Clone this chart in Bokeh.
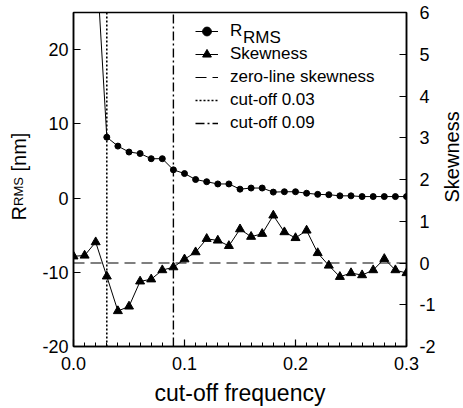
import math
from bokeh.plotting import figure
from bokeh.layouts import row
from bokeh.models import (Range1d, LinearAxis, FixedTicker, PrintfTickFormatter,
                          Legend, LegendItem, Label)
from bokeh.embed import file_html
from bokeh.resources import INLINE

FONT = "Liberation Sans"

# ---- data ----
cutoff_skew = [0.00, 0.01, 0.02, 0.03, 0.04, 0.05, 0.06, 0.07, 0.08, 0.09, 0.10,
               0.11, 0.12, 0.13, 0.14, 0.15, 0.16, 0.17, 0.18, 0.19, 0.20,
               0.21, 0.22, 0.23, 0.24, 0.25, 0.26, 0.27, 0.28, 0.29, 0.30]
skewness = [0.16, 0.18, 0.50, -0.32, -1.15, -1.04, -0.44, -0.39, -0.17, -0.10, 0.09,
            0.26, 0.58, 0.54, 0.41, 0.81, 0.63, 0.70, 1.14, 0.74, 0.60,
            0.78, 0.24, -0.06, -0.33, -0.24, -0.29, -0.17, 0.10, -0.17, -0.24]

cutoff_rms = [0.02, 0.03, 0.04, 0.05, 0.06, 0.07, 0.08, 0.09, 0.10,
              0.11, 0.12, 0.13, 0.14, 0.15, 0.16, 0.17, 0.18, 0.19, 0.20,
              0.21, 0.22, 0.23, 0.24, 0.25, 0.26, 0.27, 0.28, 0.29, 0.30]
rrms = [33.6, 8.2, 7.0, 6.2, 6.0, 5.3, 5.3, 3.8, 3.3,
        2.5, 2.2, 1.9, 1.9, 1.2, 1.35, 1.35, 0.8, 0.85, 0.85,
        0.65, 0.5, 0.45, 0.3, 0.3, 0.2, 0.2, 0.2, 0.2, 0.2]

cutoff_lines = [0.03, 0.09]
cutoff_labels = ["cut-off 0.03", "cut-off 0.09"]
skew_zero = 0.0

X_RANGE = (0.0, 0.3)
Y_RANGE = (-20, 25)
Y2_RANGE = (-2, 6)
x_ticks = [0.0, 0.1, 0.2, 0.3]
x_minor = [i / 100 for i in range(31)]
y_ticks = [-20, -10, 0, 10, 20]
y2_ticks = [-2, -1, 0, 1, 2, 3, 4, 5, 6]

H = 408
LEFT_W = 34
RIGHT_W = 25
MAIN_W = 463 - LEFT_W - RIGHT_W

p = figure(width=MAIN_W, height=H, output_backend="svg", toolbar_location=None,
           x_range=Range1d(*X_RANGE), y_range=Range1d(*Y_RANGE),
           min_border_left=39, min_border_right=29, min_border_top=12, min_border_bottom=62)
p.extra_y_ranges = {"skew": Range1d(*Y2_RANGE)}
p.grid.visible = False
p.outline_line_color = "black"
p.outline_line_width = 1.5
p.background_fill_color = "white"
p.border_fill_color = "white"

def style_axis(ax, standoff):
    ax.axis_line_width = 1.5
    ax.axis_line_color = "black"
    ax.major_tick_in = 7
    ax.major_tick_out = 0
    ax.major_tick_line_width = 1.2
    ax.minor_tick_in = 4
    ax.minor_tick_out = 0
    ax.major_label_text_font = FONT
    ax.major_label_text_font_size = "18px"
    ax.major_label_text_color = "black"
    ax.major_label_standoff = standoff

xa = p.xaxis[0]
xa.ticker = FixedTicker(ticks=x_ticks, minor_ticks=x_minor)
xa.formatter = PrintfTickFormatter(format="%.1f")
style_axis(xa, 10)
xa.axis_label = "cut-off frequency"
xa.axis_label_text_font = FONT
xa.axis_label_text_font_size = "23px"
xa.axis_label_text_font_style = "normal"
xa.axis_label_text_color = "black"
xa.axis_label_standoff = 7

ya = p.yaxis[0]
ya.ticker = FixedTicker(ticks=y_ticks)
ya.formatter = PrintfTickFormatter(format="%d")
ya.minor_tick_line_color = None
style_axis(ya, 5)

y2 = LinearAxis(y_range_name="skew", ticker=FixedTicker(ticks=y2_ticks),
                formatter=PrintfTickFormatter(format="%d"))
y2.minor_tick_line_color = None
style_axis(y2, 13)
p.add_layout(y2, "right")

# ---- glyphs ----
r_rms_line = p.line(cutoff_rms, rrms, line_color="black", line_width=1)
r_rms_pts = p.scatter(cutoff_rms, rrms, marker="circle", size=6,
                      fill_color="black", line_color="black")
r_sk_line = p.line(cutoff_skew, skewness, line_color="black", line_width=1, y_range_name="skew")
r_sk_pts = p.scatter(cutoff_skew, skewness, marker="triangle", size=9,
                     fill_color="black", line_color="black", y_range_name="skew")
r_zero = p.line(list(X_RANGE), [skew_zero, skew_zero], line_color="black", line_width=1.2,
                line_dash="11 6", y_range_name="skew")
r_c1 = p.line([cutoff_lines[0]] * 2, list(Y_RANGE), line_color="black", line_width=1.6,
              line_dash="2 2")
r_c2 = p.line([cutoff_lines[1]] * 2, list(Y_RANGE), line_color="black", line_width=1.4,
              line_dash="9 3 2 3")

legend = Legend(items=[
    LegendItem(label="R", renderers=[r_rms_line, r_rms_pts]),
    LegendItem(label="Skewness", renderers=[r_sk_line, r_sk_pts]),
    LegendItem(label="zero-line skewness", renderers=[r_zero]),
    LegendItem(label=cutoff_labels[0], renderers=[r_c1]),
    LegendItem(label=cutoff_labels[1], renderers=[r_c2]),
], location=(122, 212))
legend.border_line_alpha = 0
legend.background_fill_alpha = 0
legend.padding = 0
legend.margin = 0
legend.spacing = 1
legend.glyph_width = 23
legend.glyph_height = 22
legend.label_height = 22
legend.label_standoff = 12
legend.label_text_font = FONT
legend.label_text_font_size = "17px"
legend.label_text_color = "black"
p.add_layout(legend, "center")

# legend subscript
p.add_layout(Label(x=169.5, y=309, x_units="screen", y_units="screen", text="RMS",
                   text_font=FONT, text_font_size="17px", text_baseline="middle",
                   text_align="left", text_color="black"))

def text_panel(w):
    f = figure(width=w, height=H, output_backend="svg", toolbar_location=None,
               x_axis_type=None, y_axis_type=None, x_range=Range1d(0, 1), y_range=Range1d(0, 1),
               min_border=0)
    f.grid.visible = False
    f.outline_line_color = None
    f.background_fill_color = "white"
    f.border_fill_color = "white"
    return f

# left title: R_RMS [nm]  (frames are aligned with the main plot: bottom at page y 346)
lf = text_panel(LEFT_W)
for txt, ypos, size in [("R", 126, "20px"), ("RMS", 140.5, "13px"), ("[nm]", 175, "20px")]:
    lf.add_layout(Label(x=18, y=ypos, x_units="screen", y_units="screen", text=txt,
                        angle=math.pi / 2, text_font=FONT, text_font_size=size,
                        text_baseline="alphabetic", text_align="left", text_color="black"))

# right title
rf = text_panel(RIGHT_W)
rf.add_layout(Label(x=13, y=144, x_units="screen", y_units="screen", text="Skewness",
                    angle=math.pi / 2, text_font=FONT, text_font_size="20px",
                    text_baseline="alphabetic", text_align="left", text_color="black"))

layout = row(lf, p, rf, spacing=0)
open("out.html", "w").write(file_html(layout, INLINE))
